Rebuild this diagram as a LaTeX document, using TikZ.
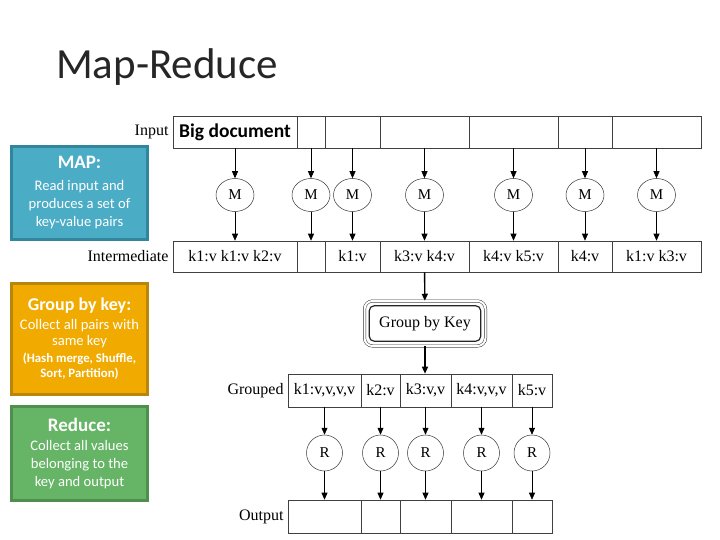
\documentclass[tikz,border=0pt]{standalone}
\usepackage{fontspec}
\setmainfont{Liberation Serif}
\newfontfamily\slidefont{Carlito}
\usetikzlibrary{arrows.meta,shapes.geometric}

\definecolor{mapfill}{HTML}{4BACC6}
\definecolor{mapline}{HTML}{31859C}
\definecolor{groupfill}{HTML}{F0AA00}
\definecolor{groupline}{HTML}{B8860B}
\definecolor{reducefill}{HTML}{66B466}
\definecolor{reduceline}{HTML}{4E8F4E}

\tikzset{
    cell/.style={draw=black!75, line width=0.6pt, minimum height=32pt, inner sep=0pt,
        font=\fontsize{16}{16}\selectfont},
    rowlabel/.style={anchor=east, inner sep=4pt, font=\fontsize{16}{16}\selectfont},
    worker/.style={ellipse, draw=black!80, line width=0.5pt, minimum width=38pt,
        minimum height=33pt, inner sep=0pt, font=\fontsize{15}{15}\selectfont},
    flow/.style={-{Triangle[length=7pt,width=6pt]}, line width=0.6pt},
    sidebox/.style={line width=2.5pt, minimum width=136pt, text=white, align=center,
        inner sep=0pt, font=\slidefont\fontsize{14.6}{18}\selectfont},
}

\begin{document}
\begin{tikzpicture}[x=1pt, y=-1pt]
    \useasboundingbox (0,0) rectangle (720,540);

    % title
    \node[anchor=west, inner sep=0pt, text=black!85, font=\slidefont\fontsize{43}{43}\selectfont]
        (title) at (56,67) {Map-Reduce};

    % map phase
    \foreach \l/\r/\a/\b [count=\i] in {%
        173/297/{\slidefont\bfseries\fontsize{19.5}{19.5}\selectfont Big document\hspace{8pt}}/{k1:v k1:v k2:v},
        297/325/{}/{},
        325/380/{}/{k1:v},
        380/469/{}/{k3:v k4:v},
        469/558/{}/{k4:v k5:v},
        558/612/{}/{k4:v},
        612/701/{}/{k1:v k3:v}}{
        \node[cell, minimum width={\r-\l}] (in\i) at ({(\l+\r)/2},132) {\a};
        \node[worker] (m\i) at ({(\l+\r)/2},195) {M};
        \node[cell, minimum width={\r-\l}, minimum height=31pt] (im\i) at ({(\l+\r)/2},256.5) {\b};
        \draw[flow] (in\i) -- (m\i);
        \draw[flow] (m\i) -- (im\i);
    }
    \node[rowlabel] (lin) at (in1.west) {Input};
    \node[rowlabel] (lim) at (im1.west) {Intermediate};

    % shuffle
    \node[draw=black!80, line width=0.5pt, double, double distance=2pt, rounded corners=8pt,
        minimum width=121pt, minimum height=45pt, font=\fontsize{16}{16}\selectfont]
        (gbk) at (425,323.5) {Group by Key};
    \draw[line width=1.2pt, black!85, rounded corners=5pt]
        ([shift={(5pt,-5pt)}]gbk.north west) rectangle ([shift={(-5pt,5pt)}]gbk.south east);
    \draw[flow, line width=1.4pt] (im4) -- (gbk);

    % reduce phase
    \foreach \l/\r/\a [count=\i] in {%
        288/361/{k1:v,v,v,v},
        361/400/{k2:v},
        400/451/{k3:v,v},
        451/512/{k4:v,v,v},
        512/552/{k5:v}}{
        \node[cell, minimum width={\r-\l}, minimum height=33pt] (gr\i) at ({(\l+\r)/2},390.5) {\a};
        \node[worker, minimum height=36pt, minimum width=36pt] (r\i) at ({(\l+\r)/2},453) {R};
        \node[cell, minimum width={\r-\l}, minimum height=33pt] (out\i) at ({(\l+\r)/2},516.5) {};
        \draw[flow] (gr\i) -- (r\i);
        \draw[flow] (r\i) -- (out\i);
    }
    \draw[flow, line width=1.4pt] (gbk) -- (gbk |- gr3.north);
    \node[rowlabel] (lgr) at (gr1.west) {Grouped};
    \node[rowlabel] (lout) at (out1.west) {Output};

    % explanation boxes
    \node[sidebox, fill=mapfill, draw=mapline, minimum height=93pt] (map) at (79.5,193)
        {{\bfseries\fontsize{19}{23}\selectfont MAP:}\\[4pt]Read input and\\produces a set of\\key-value pairs};
    \node[sidebox, fill=groupfill, draw=groupline, minimum height=111pt] (group) at (79.5,339)
        {{\bfseries\fontsize{18}{23}\selectfont Group by key:}\\[1pt]Collect all pairs with\\[-2pt]same key\\[-1pt]
         \bfseries\fontsize{12.8}{16.5}\selectfont (Hash merge, Shuffle,\\[-3pt]
         \bfseries\fontsize{12.8}{15.5}\selectfont Sort, Partition)};
    \node[sidebox, fill=reducefill, draw=reduceline, minimum height=94pt] (reduce) at (79.5,453.5)
        {{\bfseries\fontsize{19}{23}\selectfont Reduce:}\\[1pt]Collect all values\\belonging to the\\key and output};
\end{tikzpicture}
\end{document}
